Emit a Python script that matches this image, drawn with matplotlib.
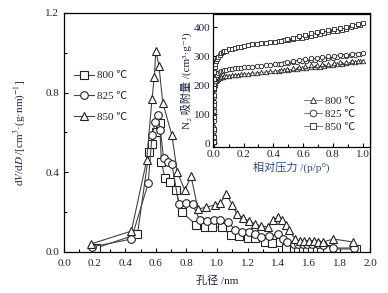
import matplotlib
matplotlib.use("Agg")
import matplotlib.pyplot as plt
from matplotlib.ticker import MultipleLocator

plt.rcParams['font.family'] = ['Liberation Serif', 'Noto Sans CJK SC', 'DejaVu Sans']
plt.rcParams['mathtext.fontset'] = 'stix'
plt.rcParams['axes.unicode_minus'] = False

# pore size distribution (main plot)
d_800 = [0.21, 0.48, 0.555, 0.575, 0.60, 0.625, 0.636, 0.66, 0.695, 0.73, 0.77, 0.865, 0.92, 0.97,
         1.03, 1.09, 1.14, 1.20, 1.25, 1.31, 1.36, 1.41, 1.45, 1.50, 1.53, 1.56, 1.59, 1.62, 1.65,
         1.68, 1.72, 1.91]
v_800 = [0.02, 0.09, 0.50, 0.54, 0.60, 0.645, 0.45, 0.37, 0.35, 0.31, 0.20, 0.135, 0.125, 0.125,
         0.125, 0.085, 0.08, 0.07, 0.07, 0.05, 0.045, 0.05, 0.02, 0.02, 0.02, 0.02, 0.02, 0.02, 0.02,
         0.02, 0.015, 0.015]

d_825 = [0.18, 0.44, 0.55, 0.575, 0.595, 0.612, 0.63, 0.65, 0.68, 0.705, 0.75, 0.80, 0.84, 0.886,
         0.935, 0.98, 1.02, 1.07, 1.12, 1.16, 1.21, 1.25, 1.29, 1.34, 1.40, 1.43, 1.46, 1.50, 1.53,
         1.56, 1.59, 1.62, 1.66, 1.69, 1.76, 1.895]
v_825 = [0.025, 0.065, 0.345, 0.585, 0.65, 0.69, 0.61, 0.47, 0.45, 0.44, 0.24, 0.245, 0.24, 0.16,
         0.155, 0.16, 0.16, 0.15, 0.11, 0.10, 0.10, 0.09, 0.075, 0.08, 0.09, 0.065, 0.05, 0.04, 0.04,
         0.04, 0.04, 0.04, 0.04, 0.035, 0.02, 0.02]

d_850 = [0.175, 0.44, 0.54, 0.575, 0.59, 0.60, 0.62, 0.645, 0.705, 0.74, 0.79, 0.83, 0.875, 0.93,
         0.985, 1.02, 1.06, 1.10, 1.13, 1.17, 1.21, 1.25, 1.29, 1.33, 1.365, 1.395, 1.425, 1.45,
         1.47, 1.51, 1.54, 1.57, 1.60, 1.63, 1.66, 1.69, 1.76, 1.89]
v_850 = [0.04, 0.105, 0.46, 0.77, 0.88, 1.01, 0.935, 0.75, 0.585, 0.40, 0.31, 0.38, 0.215, 0.225,
         0.235, 0.245, 0.29, 0.235, 0.19, 0.17, 0.155, 0.14, 0.13, 0.125, 0.16, 0.175, 0.16, 0.135,
         0.11, 0.065, 0.055, 0.055, 0.055, 0.055, 0.05, 0.05, 0.065, 0.05]

# N2 isotherms (inset)
p_ads = [0.00002, 0.00005, 0.0001, 0.0002, 0.0004, 0.0007, 0.001, 0.002, 0.004, 0.007, 0.01, 0.015,
         0.02, 0.03, 0.04, 0.05, 0.06, 0.07, 0.08, 0.10, 0.12, 0.14, 0.16, 0.18, 0.20, 0.23, 0.26,
         0.29, 0.32, 0.35, 0.38, 0.41, 0.44, 0.47, 0.50, 0.53, 0.56, 0.59, 0.62, 0.65, 0.68, 0.71,
         0.74, 0.77, 0.80, 0.83, 0.86, 0.89, 0.92, 0.95, 0.98, 1.0]
q_800 = [5, 12, 30, 60, 95, 125, 145, 170, 188, 200, 207, 213, 217, 222, 225, 227, 229, 230, 231,
         233, 234, 235, 236, 237, 238, 239, 241, 242, 244, 245, 247, 248, 250, 251, 252, 254, 256,
         258, 259, 261, 263, 264, 266, 268, 270, 272, 274, 276, 278, 280, 282, 284]
q_825 = [5, 15, 40, 75, 110, 140, 160, 185, 203, 215, 222, 229, 234, 240, 244, 247, 249, 251, 253,
         255, 257, 258, 259, 260, 261, 263, 264, 266, 267, 269, 270, 272, 273, 275, 276, 278, 280,
         282, 284, 286, 288, 289, 291, 293, 295, 297, 299, 301, 303, 305, 307, 309]
q_850 = [5, 20, 50, 90, 130, 165, 190, 220, 245, 262, 272, 282, 289, 298, 304, 309, 313, 316, 319,
         323, 326, 329, 331, 333, 335, 338, 340, 342, 344, 346, 348, 350, 352, 354, 356, 358, 361,
         364, 367, 370, 373, 376, 379, 382, 385, 388, 391, 395, 399, 403, 408, 413]

p_des = [0.97, 0.93, 0.89, 0.85, 0.81, 0.77, 0.73, 0.69, 0.65, 0.61, 0.57, 0.53, 0.49, 0.45]
qd_800 = [283, 282, 280, 278, 276, 274, 272, 270, 268, 265, 262, 258, 254, 251]
qd_825 = [308, 307, 305, 303, 301, 299, 297, 295, 293, 290, 287, 283, 279, 274]
qd_850 = [409, 406, 402, 398, 394, 390, 386, 382, 378, 374, 369, 364, 358, 353]

labels = ["800 ℃", "825 ℃", "850 ℃"]
txt = '#1c2348'
line_c = '#444444'

fig = plt.figure(figsize=(3.88, 2.93), dpi=100)
ax = fig.add_axes([0.165, 0.140, 0.789, 0.816])

mk = dict(color=line_c, lw=0.8, markerfacecolor='white', markeredgecolor='#222222',
          markeredgewidth=0.8, markersize=5.5)
ax.plot(d_800, v_800, marker='s', label=labels[0], **mk)
ax.plot(d_825, v_825, marker='o', label=labels[1], **mk)
ax.plot(d_850, v_850, marker='^', label=labels[2], **mk)

ax.set_xlim(0, 2.0)
ax.set_ylim(0, 1.2)
ax.xaxis.set_major_locator(MultipleLocator(0.2))
ax.xaxis.set_minor_locator(MultipleLocator(0.1))
ax.yaxis.set_major_locator(MultipleLocator(0.4))
ax.yaxis.set_minor_locator(MultipleLocator(0.2))
ax.tick_params(which='both', direction='in', labelsize=8, labelcolor=txt, width=0.8)
ax.tick_params(axis='x', pad=5)
ax.tick_params(which='major', length=3)
ax.tick_params(which='minor', length=2.5)
for s in ax.spines.values():
    s.set_linewidth(0.9)
ax.set_xlabel("孔径 /nm", fontsize=8, color=txt, labelpad=5)
ax.set_ylabel("d$V$/d$D$ /[cm$^3$·(g·nm)$^{-1}$]", fontsize=8, color=txt, labelpad=13)
ax.legend(loc='upper left', bbox_to_anchor=(0.0, 0.80), frameon=False, fontsize=8,
          labelspacing=1.0, handlelength=1.8, handletextpad=0.3, labelcolor=txt)

# inset
ins = fig.add_axes([0.549, 0.498, 0.405, 0.454])
mi = dict(color=line_c, lw=0.5, markerfacecolor='white', markeredgecolor='#222222',
          markeredgewidth=0.6, markersize=3.2)
ins.plot(p_ads, q_800, marker='^', label=labels[0], **mi)
ins.plot(p_ads, q_825, marker='o', label=labels[1], **mi)
ins.plot(p_ads, q_850, marker='s', label=labels[2], **mi)
ins.plot(p_des, qd_800, marker='^', linestyle='none', **mi)
ins.plot(p_des, qd_825, marker='o', linestyle='none', **mi)
ins.plot(p_des, qd_850, marker='s', linestyle='none', **mi)

ins.set_xlim(-0.005, 1.05)
ins.set_ylim(-14, 445)
ins.xaxis.set_major_locator(MultipleLocator(0.2))
ins.xaxis.set_minor_locator(MultipleLocator(0.1))
ins.yaxis.set_major_locator(MultipleLocator(100))
ins.tick_params(which='both', direction='in', labelsize=8, labelcolor=txt, width=0.8, pad=2)
ins.tick_params(which='major', length=3)
ins.tick_params(which='minor', length=2.5)
for s in ins.spines.values():
    s.set_linewidth(0.9)
ins.set_xlabel("相对压力 /(p/p⁰)", fontsize=8, color='#2f4a85', labelpad=2)
ins.set_ylabel("N₂ 吸附量 /(cm³·g⁻¹)", fontsize=8, color=txt, labelpad=1)
ins.legend(loc='lower right', bbox_to_anchor=(0.97, 0.04), frameon=False, fontsize=8,
           labelspacing=0.3, handlelength=1.6, handletextpad=0.3, labelcolor=txt,
           markerscale=1.5)

fig.savefig("out.png", dpi=100)
